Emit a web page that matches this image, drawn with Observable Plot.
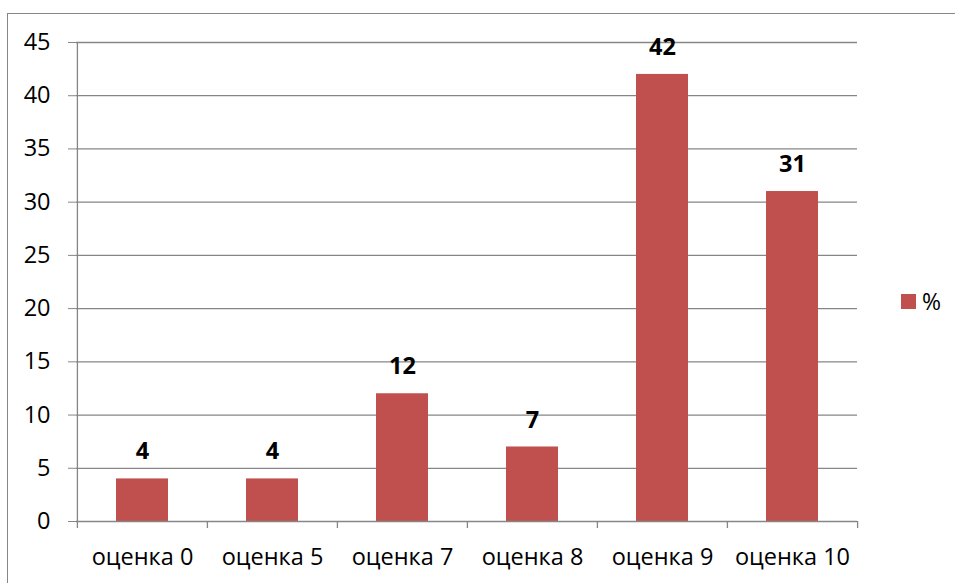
<!DOCTYPE html>
<html>
<head>
<meta charset="utf-8">
<script src="https://cdn.jsdelivr.net/npm/d3@7"></script>
<script src="https://cdn.jsdelivr.net/npm/@observablehq/plot@0.6"></script>
<style>
  html, body { margin: 0; padding: 0; background: #fff; overflow: hidden; }
  #wrap { position: relative; width: 955px; height: 583px; font-family: "Open Sans", sans-serif; }
  #frame { position: absolute; left: 7px; top: 13px; width: 960px; height: 590px; border: 1px solid #868686; box-sizing: border-box; }
  #chart { position: absolute; left: 0; top: 0; }
  #legend { position: absolute; left: 901px; top: 285px; display: flex; align-items: center; font-size: 23px; color: #000; }
  #legend .sw { width: 15px; height: 15px; background: #C0504D; margin-right: 6px; }
</style>
</head>
<body>
<div id="wrap">
  <div id="frame"></div>
  <div id="chart"></div>
  <div id="legend"><div class="sw"></div><span>%</span></div>
</div>
<script>
const categories = ["оценка 0", "оценка 5", "оценка 7", "оценка 8", "оценка 9", "оценка 10"];
const values = [4, 4, 12, 7, 42, 31];
const yTicks = [0, 5, 10, 15, 20, 25, 30, 35, 40, 45];

const data = categories.map((c, i) => ({ cat: c, value: values[i] }));
const gridColor = "#868686";
const fs = 23.5;

const chart = Plot.plot({
  width: 955,
  height: 583,
  marginLeft: 76,
  marginRight: 98,
  marginTop: 42,
  marginBottom: 62,
  style: { fontFamily: "'Open Sans', sans-serif", fontSize: fs + "px", color: "#000", background: "transparent" },
  x: { domain: categories, paddingInner: 0.6, paddingOuter: 0.3, label: null },
  y: { domain: [0, 45], label: null },
  marks: [
    Plot.ruleY(yTicks.filter(t => t > 0), { stroke: gridColor, strokeWidth: 1.3 }),
    Plot.axisY({ ticks: yTicks, tickSize: 8, tickPadding: 18, stroke: gridColor, strokeOpacity: 1, fontSize: fs, fill: "#000", label: null }),
    Plot.axisX({ tickSize: 0, tickPadding: 27, fontSize: fs, fill: "#000", label: null }),
    Plot.barY(data, { x: "cat", y: "value", fill: "#C0504D" }),
    Plot.ruleY([0], { stroke: gridColor, strokeWidth: 1.3 }),
    Plot.ruleX(categories, { x: d => d, dx: -65.1, y1: 0, y2: -0.66, stroke: gridColor, strokeWidth: 1.3 }),
    Plot.ruleX([categories[categories.length - 1]], { x: d => d, dx: 65.1, y1: 0, y2: -0.66, stroke: gridColor, strokeWidth: 1.3 }),
    Plot.ruleX([categories[0]], { x: d => d, dx: -65.1, y1: 0, y2: 45, stroke: gridColor, strokeWidth: 1.3 }),
    Plot.text(data, { x: "cat", y: "value", text: d => String(d.value), dy: -27, fontWeight: "bold", fontSize: fs, fill: "#000" })
  ]
});
document.getElementById("chart").appendChild(chart);
</script>
</body>
</html>
